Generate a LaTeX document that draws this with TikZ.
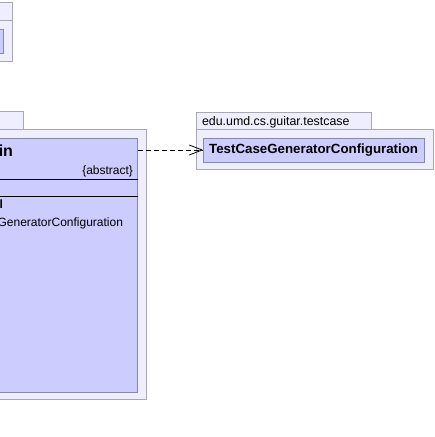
\documentclass[tikz,border=0pt]{standalone}
\usepackage{fontspec}
\setmainfont{Liberation Sans}
\definecolor{pkgfill}{RGB}{238,238,255}
\definecolor{pkgline}{RGB}{168,168,180}
\definecolor{clsfill}{RGB}{204,204,255}
\definecolor{clsline}{RGB}{136,136,170}
\usetikzlibrary{arrows.meta,positioning}

\begin{document}
\begin{tikzpicture}[x=1pt,y=-1pt,
          every node/.style={inner sep=0pt,outer sep=0pt},
          pkgbox/.style={draw=pkgline, fill=pkgfill, line width=0.9pt,
                         anchor=north west},
          clsbox/.style={draw=clsline, fill=clsfill, line width=0.9pt,
                         anchor=north west},
          txt/.style={font=\fontsize{12}{14}\selectfont}]
  \useasboundingbox (0,0) rectangle (435,437);
  % package in the upper left corner
  \node[pkgbox, minimum width=18pt, minimum height=18pt] (tltab) at (-6,2.3) {};
  \node[pkgbox, minimum width=18pt, minimum height=41pt] (tlpkg) at (-6,20.3) {};
  \node[clsbox, minimum width=9pt, minimum height=24pt] (tlcls) at (-6,29) {};
  % package of the abstract class
  \node[pkgbox, minimum width=29pt, minimum height=18pt] (maintab) at (-6,111) {};
  \node[pkgbox, minimum width=152pt, minimum height=270pt] (mainpkg) at (-6,129) {};
  \node[clsbox, minimum width=143.5pt, minimum height=254pt] (maincls) at (-6,138) {};
  \node[anchor=base east, font=\fontsize{16}{18}\selectfont\bfseries] (mainname)
    at (13,156) {in};
  \node[txt, anchor=base east] (mainabs) at (133,174.5) {\{abstract\}};
  \draw[line width=0.8pt] (-6,179) coordinate (sepa) -- (maincls.east |- sepa);
  \draw[line width=0.8pt] (-6,196.5) coordinate (sepb) -- (maincls.east |- sepb);
  \node[anchor=base east, font=\fontsize{12}{14}\selectfont\bfseries] (mainop)
    at (3,208.5) {l};
  \node[txt, anchor=base east] (mainarg) at (123,226) {GeneratorConfiguration};
  % package edu.umd.cs.guitar.testcase
  \node[pkgbox, minimum width=175pt, minimum height=17pt] (tctab) at (196,112) {};
  \node[anchor=base west, font=\fontsize{12.4}{15}\selectfont] (tclabel)
    at (202,125) {edu.umd.cs.guitar.testcase};
  \node[pkgbox, minimum width=237pt, minimum height=40pt] (tcpkg) at (196,129) {};
  \node[clsbox, minimum width=220.7pt, minimum height=24pt] (tccls) at (203.3,138) {};
  \node[font=\fontsize{13.3}{16}\selectfont\bfseries] (tcname) at (tccls.center)
    {TestCaseGeneratorConfiguration};
  % dependency
  \draw[dash pattern=on 5pt off 3pt, line width=0.8pt,
        -{Straight Barb[length=13pt,width=10pt,line width=0.8pt]}]
    (maincls.east |- tccls.west) -- (tccls.west);
\end{tikzpicture}
\end{document}
